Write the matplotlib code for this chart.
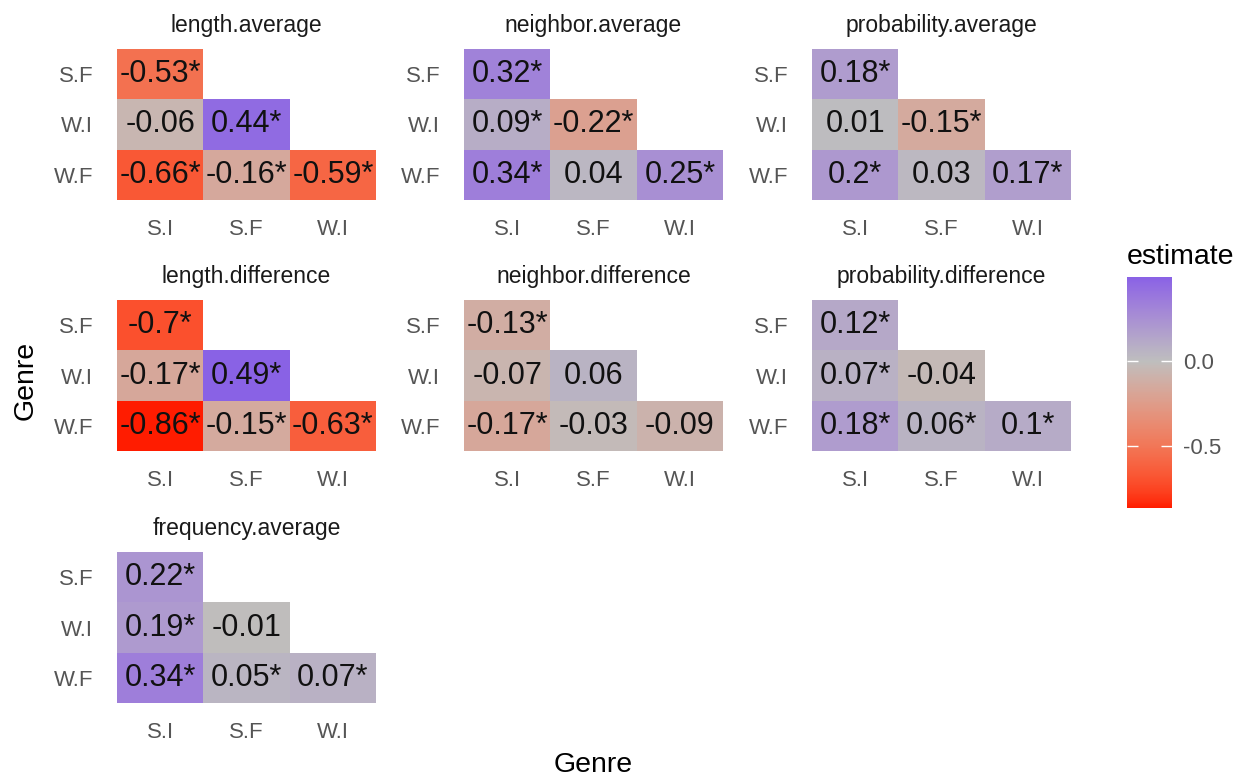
import numpy as np
import matplotlib
matplotlib.use("Agg")
import matplotlib.pyplot as plt
from matplotlib.colors import ListedColormap, Normalize
from matplotlib.cm import ScalarMappable

plt.rcParams['font.family'] = ['Liberation Sans', 'DejaVu Sans']

# genre pairs (lower triangle), one estimate per pair
x_genres = ["S.I", "S.F", "W.I"]
y_genres = ["S.F", "W.I", "W.F"]
pair_rows = [0, 1, 1, 2, 2, 2]
pair_cols = [0, 0, 1, 0, 1, 2]

panel_names = ["length.average", "neighbor.average", "probability.average",
               "length.difference", "neighbor.difference", "probability.difference",
               "frequency.average"]

length_average = [-0.53, -0.06, 0.44, -0.66, -0.16, -0.59]
neighbor_average = [0.32, 0.09, -0.22, 0.34, 0.04, 0.25]
probability_average = [0.18, 0.01, -0.15, 0.20, 0.03, 0.17]
length_difference = [-0.70, -0.17, 0.49, -0.86, -0.15, -0.63]
neighbor_difference = [-0.13, -0.07, 0.06, -0.17, -0.03, -0.09]
probability_difference = [0.12, 0.07, -0.04, 0.18, 0.06, 0.10]
frequency_average = [0.22, 0.19, -0.01, 0.34, 0.05, 0.07]

length_average_sig = [1, 0, 1, 1, 1, 1]
neighbor_average_sig = [1, 1, 1, 1, 0, 1]
probability_average_sig = [1, 0, 1, 1, 0, 1]
length_difference_sig = [1, 1, 1, 1, 1, 1]
neighbor_difference_sig = [1, 0, 0, 1, 0, 0]
probability_difference_sig = [1, 1, 0, 1, 1, 1]
frequency_average_sig = [1, 1, 0, 1, 1, 1]

estimates = [length_average, neighbor_average, probability_average,
             length_difference, neighbor_difference, probability_difference,
             frequency_average]
signif = [length_average_sig, neighbor_average_sig, probability_average_sig,
          length_difference_sig, neighbor_difference_sig, probability_difference_sig,
          frequency_average_sig]


# --- diverging red / grey / blue gradient interpolated in CIELAB ---
WHITE = np.array([0.95047, 1.0, 1.08883])
M = np.array([[0.4124, 0.3576, 0.1805],
              [0.2126, 0.7152, 0.0722],
              [0.0193, 0.1192, 0.9505]])


def to_lab(hexcol):
    rgb = np.array([int(hexcol[i:i + 2], 16) / 255 for i in (1, 3, 5)])
    lin = np.where(rgb <= 0.04045, rgb / 12.92, ((rgb + 0.055) / 1.055) ** 2.4)
    t = (M @ lin) / WHITE
    f = np.where(t > 0.008856, np.cbrt(t), 7.787 * t + 16 / 116)
    return np.array([116 * f[1] - 16, 500 * (f[0] - f[1]), 200 * (f[1] - f[2])])


def from_lab(lab):
    fy = (lab[0] + 16) / 116
    f = np.array([fy + lab[1] / 500, fy, fy - lab[2] / 200])
    t = np.where(f > 0.206893, f ** 3, (f - 16 / 116) / 7.787) * WHITE
    lin = np.linalg.solve(M, t)
    rgb = np.where(lin <= 0.0031308, 12.92 * lin, 1.055 * np.clip(lin, 0, None) ** (1 / 2.4) - 0.055)
    return np.clip(rgb, 0, 1)


low, mid, high = to_lab("#FF1C00"), to_lab("#BEBEBE"), to_lab("#0000FF")
all_vals = np.concatenate(estimates)
vmin, vmax = all_vals.min(), all_vals.max()
span = max(abs(vmin), abs(vmax))


def ramp(v):
    p = 0.5 + v / (2 * span)
    if p < 0.5:
        return from_lab(low + (mid - low) * (p / 0.5))
    return from_lab(mid + (high - mid) * ((p - 0.5) / 0.5))


cmap = ListedColormap([ramp(v) for v in np.linspace(vmin, vmax, 256)])
norm = Normalize(vmin=vmin, vmax=vmax)

W, H = 1245, 777
fig = plt.figure(figsize=(W / 100, H / 100), dpi=100)


def px_axes(left, top, w, h):
    return fig.add_axes([left / W, 1 - (top + h) / H, w / W, h / H])


col_left = [117, 464, 812]
row_top = [49, 300, 552]
pw, ph = 259, 151

for k, name in enumerate(panel_names):
    ax = px_axes(col_left[k % 3], row_top[k // 3], pw, ph)
    grid = np.full((3, 3), np.nan)
    for v, r, c in zip(estimates[k], pair_rows, pair_cols):
        grid[r, c] = v
    ax.pcolormesh(np.arange(4), np.arange(4), np.ma.masked_invalid(grid),
                  cmap=cmap, norm=norm)
    for v, s, r, c in zip(estimates[k], signif[k], pair_rows, pair_cols):
        ax.text(c + 0.5, r + 0.5, f"{v:g}" + ("*" if s else ""),
                ha="center", va="center", fontsize=22, color="#111111")
    ax.set_xlim(0, 3)
    ax.set_ylim(3, 0)
    ax.set_xticks(np.arange(3) + 0.5, x_genres)
    ax.set_yticks(np.arange(3) + 0.5, y_genres)
    ax.tick_params(length=0, labelsize=16, labelcolor="#555555")
    ax.tick_params(axis="x", pad=14)
    ax.tick_params(axis="y", pad=17)
    for sp in ax.spines.values():
        sp.set_visible(False)
    ax.set_title(name, fontsize=16.5, color="#1A1A1A", pad=12)

fig.text(593 / W, 1 - 765 / H, "Genre", ha="center", va="center", fontsize=20.5)
fig.text(26 / W, 1 - 380 / H, "Genre", ha="center", va="center", fontsize=20.5,
         rotation=90)

# colour bar legend
cax = px_axes(1127, 277, 45, 231)
cb = fig.colorbar(ScalarMappable(norm=norm, cmap=cmap), cax=cax)
cb.outline.set_visible(False)
cb.set_ticks([-0.5, 0.0], labels=["-0.5", "0.0"])
cax.tick_params(direction="in", left=True, right=True, color="white",
                length=8, width=1, labelsize=16, labelcolor="#555555", pad=8)
fig.text(1127 / W, 1 - 257 / H, "estimate", ha="left", va="center", fontsize=20.5)

fig.savefig("out.png", dpi=100)
